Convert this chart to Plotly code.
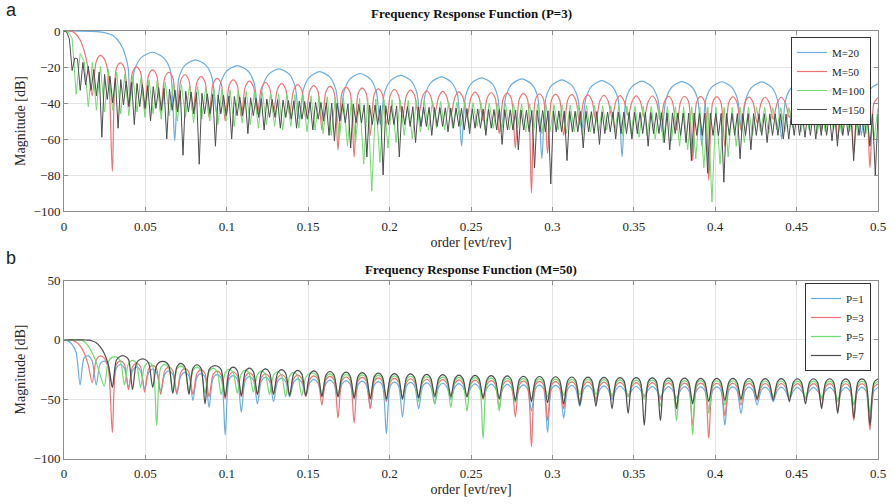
import plotly.graph_objects as go

# ---------------- DATA ----------------
ORDER_TICKS = [0, 0.05, 0.1, 0.15, 0.2, 0.25, 0.3, 0.35, 0.4, 0.45, 0.5]
ORDER_TICK_TEXT = ["0", "0.05", "0.1", "0.15", "0.2", "0.25", "0.3", "0.35", "0.4", "0.45", "0.5"]

# grid spacing of the sampled responses (order units)
M50_STEP = 0.002475247
M100_STEP = 0.002487562
M150_STEP = 0.001661130

# --- (a) P=3, M=20 : explicit points
m20_order = [0, 0.01, 0.02, 0.025, 0.03, 0.033, 0.036, 0.038, 0.0395,
             0.0405, 0.0433, 0.0474, 0.0543, 0.0611, 0.0653,
             0.068, 0.0706, 0.0744, 0.0808, 0.0871, 0.0910,
             0.0935, 0.0961, 0.1, 0.1065, 0.113, 0.1169,
             0.1195, 0.122, 0.1258, 0.132, 0.1383, 0.142,
             0.1445, 0.147, 0.1508, 0.157, 0.1633, 0.167,
             0.1695, 0.172, 0.1757, 0.1819, 0.1881, 0.1918,
             0.1943, 0.1968, 0.2006, 0.2068, 0.2131, 0.2168,
             0.2193, 0.2218, 0.2255, 0.2318, 0.238, 0.2417,
             0.2442, 0.2467, 0.2504, 0.2565, 0.2627, 0.2663,
             0.2688, 0.2713, 0.275, 0.2812, 0.2873, 0.291,
             0.2935, 0.296, 0.2996, 0.3058, 0.3119, 0.3156,
             0.318, 0.3205, 0.3242, 0.3304, 0.3366, 0.3403,
             0.3428, 0.3452, 0.3489, 0.355, 0.3611, 0.3648,
             0.3672, 0.3697, 0.3734, 0.3795, 0.3857, 0.3893,
             0.3918, 0.3942, 0.3979, 0.404, 0.4101, 0.4138,
             0.4162, 0.4187, 0.4224, 0.4285, 0.4347, 0.4383,
             0.4408, 0.4432, 0.4469, 0.453, 0.4591, 0.4628,
             0.4652, 0.4677, 0.4714, 0.4775, 0.4837, 0.4873,
             0.4898, 0.4923, 0.496, 0.5]
m20_db = [0, -0.05, -0.3, -0.9, -2.5, -5.0, -9.5, -14.5, -21.0,
          -38, -21.8, -14.8, -11.8, -14.8, -21.8,
          -61, -26.0, -19.0, -16.0, -19.0, -26.0,
          -45, -29.2, -22.2, -19.2, -22.2, -29.2,
          -47, -31.0, -24.0, -21.0, -24.0, -31.0,
          -49, -32.6, -25.6, -22.6, -25.6, -32.6,
          -50, -33.6, -26.6, -23.6, -26.6, -33.6,
          -52, -34.6, -27.6, -24.6, -27.6, -34.6,
          -53, -35.5, -28.5, -25.5, -28.5, -35.5,
          -64, -36.0, -29.0, -26.0, -29.0, -36.0,
          -54, -36.6, -29.6, -26.6, -29.6, -36.6,
          -71, -37.2, -30.2, -27.2, -30.2, -37.2,
          -55, -37.6, -30.6, -27.6, -30.6, -37.6,
          -70, -37.9, -30.9, -27.9, -30.9, -37.9,
          -56, -38.1, -31.1, -28.1, -31.1, -38.1,
          -64, -38.2, -31.2, -28.2, -31.2, -38.2,
          -56, -38.3, -31.3, -28.3, -31.3, -38.3,
          -60, -38.4, -31.4, -28.4, -31.4, -38.4,
          -55, -38.5, -31.5, -28.5, -31.5, -38.5,
          -58, -38.6, -31.6, -29.3]

# --- M=100 (P=3): start, lobe peaks and null depths
m100_start = [0, -0.4, -4.0, -35, -12.5, -17, -42]
m100_peaks = [-17.5, -19.6, -21.4, -22.8, -24.1, -25.2, -26.1, -27.0, -27.8, -28.5,
              -29.2, -29.8, -30.3, -30.9, -31.4, -31.8, -32.3, -32.7, -33.1, -33.5,
              -33.9, -34.2, -34.5, -34.8, -35.1, -35.4, -35.7, -36.0, -36.2, -36.5,
              -36.7, -37.0, -37.2, -37.4, -37.6, -37.8, -38.0, -38.2, -38.4, -38.6,
              -38.7, -38.9, -39.0, -39.2, -39.4, -39.5, -39.6, -39.8, -39.9, -40.0,
              -40.2, -40.3, -40.4, -40.5, -40.6, -40.7, -40.8, -40.9, -41.0, -41.1,
              -41.2, -41.3, -41.4, -41.5, -41.5, -41.6, -41.7, -41.8, -41.8, -41.9,
              -42.0, -42.0, -42.1, -42.1, -42.2, -42.2, -42.3, -42.3, -42.4, -42.4,
              -42.4, -42.5, -42.5, -42.5, -42.6, -42.6, -42.6, -42.6, -42.7, -42.7,
              -42.7, -42.7, -42.7, -42.7, -42.7, -42.8, -42.8, -42.8]
m100_nulls = [-44, -45, -44, -46, -47, -45, -48, -46, -49, -47,
              -50, -48, -51, -49, -50, -52, -50, -53, -51, -52,
              -54, -52, -53, -55, -53, -54, -56, -55, -57, -58,
              -60, -64, -62, -74, -89, -73, -65, -62, -58, -60,
              -56, -55, -54, -55, -54, -53, -54, -53, -55, -54,
              -56, -55, -54, -56, -55, -57, -56, -55, -57, -56,
              -58, -56, -57, -55, -56, -58, -57, -59, -58, -60,
              -62, -61, -64, -66, -71, -76, -95, -74, -70, -64,
              -62, -58, -56, -57, -55, -56, -54, -56, -55, -57,
              -56, -55, -57, -56, -58, -57, -60]

# --- M=150 (P=3): start, lobe peaks and null depths
m150_start = [0, -0.6, -4.5, -22, -15, -15.5, -33]
m150_peaks = [-17.4, -19.6, -21.4, -22.8, -24.1, -25.1, -26.1, -27.0, -27.8, -28.5,
              -29.1, -29.8, -30.3, -30.9, -31.4, -31.9, -32.3, -32.7, -33.1, -33.5,
              -33.9, -34.2, -34.6, -34.9, -35.2, -35.5, -35.8, -36.1, -36.4, -36.6,
              -36.9, -37.1, -37.4, -37.6, -37.8, -38.0, -38.2, -38.4, -38.6, -38.8,
              -39.0, -39.2, -39.4, -39.6, -39.7, -39.9, -40.1, -40.2, -40.4, -40.5,
              -40.7, -40.8, -41.0, -41.1, -41.2, -41.4, -41.5, -41.6, -41.7, -41.9,
              -42.0, -42.1, -42.2, -42.3, -42.4, -42.5, -42.6, -42.7, -42.8, -42.9,
              -43.0, -43.1, -43.2, -43.3, -43.4, -43.5, -43.6, -43.6, -43.7, -43.8,
              -43.9, -43.9, -44.0, -44.1, -44.2, -44.2, -44.3, -44.4, -44.4, -44.5,
              -44.6, -44.6, -44.7, -44.7, -44.8, -44.8, -44.9, -45.0, -45.0, -45.1,
              -45.1, -45.2, -45.2, -45.2, -45.3, -45.3, -45.4, -45.4, -45.5, -45.5,
              -45.5, -45.6, -45.6, -45.6, -45.7, -45.7, -45.7, -45.8, -45.8, -45.8,
              -45.8, -45.9, -45.9, -45.9, -45.9, -46.0, -46.0, -46.0, -46.0, -46.0,
              -46.1, -46.1, -46.1, -46.1, -46.1, -46.1, -46.1, -46.1, -46.2, -46.2,
              -46.2, -46.2, -46.2, -46.2, -46.2, -46.2, -46.2, -46.2]
m150_nulls = [-30, -33, -36, -59, -38, -40, -54, -41, -42, -52,
              -42, -43, -50, -43, -44, -60, -44, -45, -69, -45,
              -46, -74, -46, -46, -64, -46, -47, -60, -47, -47,
              -57, -47, -48, -55, -48, -48, -54, -48, -49, -54,
              -49, -49, -55, -49, -50, -58, -61, -50, -51, -65,
              -51, -51, -70, -52, -52, -80, -52, -52, -70, -52,
              -53, -62, -53, -53, -58, -53, -53, -56, -54, -53,
              -55, -57, -54, -54, -58, -54, -55, -63, -55, -55,
              -66, -55, -56, -76, -56, -56, -85, -56, -56, -72,
              -56, -56, -65, -56, -57, -63, -57, -56, -60, -57,
              -57, -60, -57, -57, -64, -57, -57, -62, -66, -57,
              -58, -62, -72, -58, -58, -79, -58, -58, -84, -58,
              -58, -71, -58, -66, -58, -58, -62, -58, -58, -60,
              -60, -58, -58, -59, -58, -60, -58, -58, -61, -64,
              -58, -58, -72, -58, -59, -64, -80]

# --- (b) M=50, P=1 / 3 / 5 / 7  (P=3 is also the M=50 curve of panel a)
p1_db = [0, -0.9, -3.9, -10.5, -38,
         -15.0, -13.5, -18.0, -38,
         -20.1, -17.9, -21.7, -40,
         -23.8, -20.8, -23.8, -40,
         -26.0, -23.0, -26.0, -41,
         -27.7, -24.7, -27.7, -43,
         -29.1, -26.1, -29.1, -46,
         -30.4, -27.4, -30.4, -51,
         -31.4, -28.4, -31.4, -57,
         -32.4, -29.4, -32.4, -80,
         -33.2, -30.2, -33.2, -61,
         -34.0, -31.0, -34.0, -54,
         -34.7, -31.7, -34.7, -52,
         -35.3, -32.3, -35.3, -48,
         -35.9, -32.9, -35.9, -47,
         -36.4, -33.4, -36.4, -47,
         -36.9, -33.9, -36.9, -48,
         -37.4, -34.4, -37.4, -50,
         -37.8, -34.8, -37.8, -56,
         -38.2, -35.2, -38.2, -79,
         -38.6, -35.6, -38.6, -65,
         -38.9, -35.9, -38.9, -58,
         -39.3, -36.3, -39.3, -54,
         -39.6, -36.6, -39.6, -50,
         -39.9, -36.9, -39.9, -48,
         -40.1, -37.1, -40.1, -47,
         -40.4, -37.4, -40.4, -48,
         -40.6, -37.6, -40.6, -52,
         -40.9, -37.9, -40.9, -60,
         -41.1, -38.1, -41.1, -78,
         -41.3, -38.3, -41.3, -66,
         -41.5, -38.5, -41.5, -56,
         -41.6, -38.6, -41.6, -52,
         -41.8, -38.8, -41.8, -50,
         -42.0, -39.0, -42.0, -48,
         -42.1, -39.1, -42.1, -47,
         -42.2, -39.2, -42.2, -48,
         -42.4, -39.4, -42.4, -49,
         -42.5, -39.5, -42.5, -52,
         -42.6, -39.6, -42.6, -58,
         -42.7, -39.7, -42.7, -72,
         -42.7, -39.7, -42.7, -62,
         -42.8, -39.8, -42.8, -55,
         -42.9, -39.9, -42.9, -52,
         -42.9, -39.9, -42.9, -50,
         -43.0, -40.0, -43.0, -48,
         -43.0, -40.0, -43.0, -48,
         -43.0, -40.0, -43.0, -50,
         -43.1, -40.1, -43.1, -54,
         -43.1, -40.1, -43.1, -73,
         -43.1, -40.1]

p3_db = [0, 0, -0.3, -1.8, -5.0, -11.0, -21.0, -36.0, -17.0, -13.5, -15.5, -24.0, -78.0,
         -20.7, -17.7, -20.7, -42,
         -22.9, -19.9, -22.9, -44,
         -24.6, -21.6, -24.6, -46,
         -26.0, -23.0, -26.0, -45,
         -27.3, -24.3, -27.3, -46,
         -28.3, -25.3, -28.3, -48,
         -29.3, -26.3, -29.3, -50,
         -30.1, -27.1, -30.1, -48,
         -30.9, -27.9, -30.9, -46,
         -31.6, -28.6, -31.6, -45,
         -32.2, -29.2, -32.2, -46,
         -32.8, -29.8, -32.8, -48,
         -33.3, -30.3, -33.3, -55,
         -33.8, -30.8, -33.8, -66,
         -34.3, -31.3, -34.3, -70,
         -34.7, -31.7, -34.7, -58,
         -35.1, -32.1, -35.1, -52,
         -35.5, -32.5, -35.5, -48,
         -35.8, -32.8, -35.8, -47,
         -36.2, -33.2, -36.2, -46,
         -36.5, -33.5, -36.5, -47,
         -36.8, -33.8, -36.8, -48,
         -37.0, -34.0, -37.0, -50,
         -37.3, -34.3, -37.3, -57,
         -37.5, -34.5, -37.5, -65,
         -37.8, -34.8, -37.8, -90,
         -38.0, -35.0, -38.0, -68,
         -38.2, -35.2, -38.2, -58,
         -38.4, -35.4, -38.4, -52,
         -38.5, -35.5, -38.5, -50,
         -38.7, -35.7, -38.7, -48,
         -38.9, -35.9, -38.9, -47,
         -39.0, -36.0, -39.0, -48,
         -39.1, -36.1, -39.1, -50,
         -39.3, -36.3, -39.3, -55,
         -39.4, -36.4, -39.4, -72,
         -39.5, -36.5, -39.5, -83,
         -39.6, -36.6, -39.6, -64,
         -39.6, -36.6, -39.6, -55,
         -39.7, -36.7, -39.7, -51,
         -39.8, -36.8, -39.8, -49,
         -39.8, -36.8, -39.8, -48,
         -39.9, -36.9, -39.9, -50,
         -39.9, -36.9, -39.9, -55,
         -39.9, -36.9, -39.9, -60,
         -40.0, -37.0, -40.0, -68,
         -40.0, -37.0, -40.0, -76,
         -40.0, -37.0]

p5_db = [0, 0, 0, -0.1, -0.3, -1.5, -5.0, -11.0, -19.0, -30.0, -39.0,
         -18.5, -14.6, -14.4, -18.0, -38,
         -20.3, -17.3, -20.3, -40,
         -22.1, -19.1, -22.1, -72,
         -23.6, -20.6, -23.6, -45,
         -24.9, -21.9, -24.9, -44,
         -26.0, -23.0, -26.0, -45,
         -26.9, -23.9, -26.9, -46,
         -27.8, -24.8, -27.8, -45,
         -28.6, -25.6, -28.6, -44,
         -29.3, -26.3, -29.3, -46,
         -29.9, -26.9, -29.9, -48,
         -30.5, -27.5, -30.5, -47,
         -31.5, -28.2, -28.2, -31.5, -46,
         -31.7, -28.7, -31.7, -46,
         -32.2, -29.2, -32.2, -47,
         -32.6, -29.6, -32.6, -48,
         -33.0, -30.0, -33.0, -50,
         -33.4, -30.4, -33.4, -50,
         -33.7, -30.7, -33.7, -52,
         -34.1, -31.1, -34.1, -54,
         -34.4, -31.4, -34.4, -57,
         -34.7, -31.7, -34.7, -60,
         -34.9, -31.9, -34.9, -83,
         -35.2, -32.2, -35.2, -60,
         -35.4, -32.4, -35.4, -53,
         -35.7, -32.7, -35.7, -50,
         -35.9, -32.9, -35.9, -48,
         -36.1, -33.1, -36.1, -47,
         -36.3, -33.3, -36.3, -46,
         -36.4, -33.4, -36.4, -46,
         -36.6, -33.6, -36.6, -47,
         -36.8, -33.8, -36.8, -48,
         -36.9, -33.9, -36.9, -50,
         -37.0, -34.0, -37.0, -56,
         -37.2, -34.2, -37.2, -68,
         -37.3, -34.3, -37.3, -80,
         -37.4, -34.4, -37.4, -62,
         -37.5, -34.5, -37.5, -55,
         -37.5, -34.5, -37.5, -51,
         -37.6, -34.6, -37.6, -49,
         -37.7, -34.7, -37.7, -48,
         -37.7, -34.7, -37.7, -48,
         -37.8, -34.8, -37.8, -49,
         -37.8, -34.8, -37.8, -50,
         -37.8, -34.8, -37.8, -52,
         -37.9, -34.9, -37.9, -55,
         -37.9, -34.9, -37.9, -62,
         -37.9, -34.9]

p7_db = [0, 0, 0, 0, 0, -0.1, -0.3, -1.0, -2.5, -6.0, -11.5, -21.0, -40.0,
         -17.0, -13.8, -13.6, -16.5, -42,
         -19.5, -16.4, -16.4, -19.5, -40,
         -21.5, -18.4, -18.4, -21.5, -45,
         -22.9, -19.9, -22.9, -46,
         -24.0, -21.0, -24.0, -54,
         -25.1, -22.1, -22.1, -25.1, -48,
         -26.0, -23.0, -26.0, -47,
         -26.8, -23.8, -26.8, -46,
         -27.5, -24.5, -27.5, -46,
         -28.1, -25.1, -28.1, -47,
         -28.7, -25.7, -28.7, -47,
         -29.2, -26.2, -29.2, -48,
         -29.7, -26.7, -29.7, -48,
         -30.2, -27.2, -30.2, -49,
         -30.6, -27.6, -30.6, -50,
         -31.0, -28.0, -31.0, -50,
         -31.4, -28.4, -31.4, -50,
         -31.7, -28.7, -31.7, -49,
         -32.1, -29.1, -32.1, -48,
         -32.4, -29.4, -32.4, -48,
         -32.7, -29.7, -32.7, -48,
         -32.9, -29.9, -32.9, -49,
         -33.2, -30.2, -33.2, -50,
         -33.4, -30.4, -33.4, -51,
         -33.7, -30.7, -33.7, -52,
         -33.9, -30.9, -33.9, -53,
         -34.1, -31.1, -34.1, -54,
         -34.3, -31.3, -34.3, -55,
         -34.4, -31.4, -34.4, -56,
         -34.6, -31.6, -34.6, -58,
         -34.8, -31.8, -34.8, -62,
         -34.9, -31.9, -34.9, -72,
         -35.0, -32.0, -35.0, -68,
         -35.2, -32.2, -35.2, -58,
         -35.3, -32.3, -35.3, -54,
         -35.4, -32.4, -35.4, -52,
         -35.5, -32.5, -35.5, -51,
         -35.5, -32.5, -35.5, -50,
         -35.6, -32.6, -35.6, -50,
         -35.7, -32.7, -35.7, -51,
         -35.7, -32.7, -35.7, -52,
         -35.8, -32.8, -35.8, -54,
         -35.8, -32.8, -35.8, -58,
         -35.8, -32.8, -35.8, -62,
         -35.9, -32.9, -35.9, -66,
         -35.9, -32.9, -35.9, -72,
         -35.9, -32.9]

TOP_NAMES = ["M=20", "M=50", "M=100", "M=150"]
BOT_NAMES = ["P=1", "P=3", "P=5", "P=7"]
COLORS = ["#6aaee0", "#f07272", "#6fdc6f", "#4d4d4d"]

# ---------------- checks ----------------
assert len(m20_order) == len(m20_db)
for arr in (p1_db, p3_db, p5_db, p7_db):
    assert len(arr) == 203, len(arr)
assert len(m100_peaks) == len(m100_nulls) + 1
assert len(m150_peaks) == len(m150_nulls) + 1


def weave(start, peaks, nulls):
    out = list(start)
    for pk, nl in zip(peaks, nulls):
        out += [pk, nl]
    out.append(peaks[-1])
    return out


m100_db = weave(m100_start, m100_peaks, m100_nulls)
m150_db = weave(m150_start, m150_peaks, m150_nulls)

# ---------------- layout helpers (body margin removed -> figure fills the window) ----------------
FW, FH = 893, 504


def xp(px):
    return px / FW


def yp(py):
    return 1 - py / FH


SERIF = "Liberation Serif, Times New Roman, serif"
fig = go.Figure()
SPL = dict(shape="spline", smoothing=0.8)

# panel (a)
fig.add_trace(go.Scatter(x=m20_order, y=m20_db, mode="lines", name=TOP_NAMES[0],
                         line=dict(color=COLORS[0], width=1.2, shape="spline", smoothing=0.7),
                         xaxis="x", yaxis="y", legend="legend"))
fig.add_trace(go.Scatter(x0=0, dx=M50_STEP, y=p3_db, mode="lines", name=TOP_NAMES[1],
                         line=dict(color=COLORS[1], width=1.2, **SPL), xaxis="x", yaxis="y", legend="legend"))
fig.add_trace(go.Scatter(x0=0, dx=M100_STEP, y=m100_db, mode="lines", name=TOP_NAMES[2],
                         line=dict(color=COLORS[2], width=1.0), xaxis="x", yaxis="y", legend="legend"))
fig.add_trace(go.Scatter(x0=0, dx=M150_STEP, y=m150_db, mode="lines", name=TOP_NAMES[3],
                         line=dict(color=COLORS[3], width=1.0), xaxis="x", yaxis="y", legend="legend"))

# panel (b)
for name, col, arr in zip(BOT_NAMES, COLORS, [p1_db, p3_db, p5_db, p7_db]):
    fig.add_trace(go.Scatter(x0=0, dx=M50_STEP, y=arr, mode="lines", name=name,
                             line=dict(color=col, width=1.2, **SPL), xaxis="x2", yaxis="y2", legend="legend2"))

AX = dict(showgrid=True, gridcolor="#e4e4e4", gridwidth=1, zeroline=False,
          showline=True, linecolor="#8c8c8c", linewidth=1, mirror="ticks",
          ticks="inside", ticklen=4, tickcolor="#8c8c8c", automargin=False,
          tickfont=dict(family=SERIF, size=13, color="#262626"))
XD = [xp(64), xp(878)]
TFONT = dict(family=SERIF, size=14, color="#262626")
LEG = dict(xanchor="right", yanchor="top", bgcolor="white", bordercolor="#333333", borderwidth=1,
           font=dict(family=SERIF, size=11, color="#222222"), tracegroupgap=0, itemwidth=30)

fig.update_layout(
    width=FW, height=FH, margin=dict(l=0, r=0, t=0, b=0, pad=0, autoexpand=False),
    paper_bgcolor="white", plot_bgcolor="white", showlegend=True,
    xaxis=dict(AX, domain=XD, range=[0, 0.5], tickvals=ORDER_TICKS, ticktext=ORDER_TICK_TEXT,
               anchor="y", ticklabelstandoff=3,
               title=dict(text="order [evt/rev]", standoff=4, font=TFONT)),
    yaxis=dict(AX, domain=[yp(211), yp(31)], range=[-100, 0], dtick=20,
               anchor="x", title=dict(text="Magnitude [dB]", standoff=4, font=TFONT)),
    xaxis2=dict(AX, domain=XD, range=[0, 0.5], tickvals=ORDER_TICKS, ticktext=ORDER_TICK_TEXT,
                anchor="y2", ticklabelstandoff=3,
                title=dict(text="order [evt/rev]", standoff=4, font=TFONT)),
    yaxis2=dict(AX, domain=[yp(458.5), yp(280.5)], range=[-100, 50], dtick=50,
                anchor="x2", title=dict(text="Magnitude [dB]", standoff=4, font=TFONT)),
    legend=dict(LEG, x=xp(871), y=yp(37)),
    legend2=dict(LEG, x=xp(871), y=yp(283)),
    annotations=[
        dict(text="<b>Frequency Response Function (P=3)</b>", x=0.5 * (XD[0] + XD[1]), y=yp(13),
             xref="paper", yref="paper", xanchor="center", yanchor="middle", showarrow=False,
             font=dict(family=SERIF, size=13, color="#111111")),
        dict(text="<b>Frequency Response Function (M=50)</b>", x=0.5 * (XD[0] + XD[1]), y=yp(269),
             xref="paper", yref="paper", xanchor="center", yanchor="middle", showarrow=False,
             font=dict(family=SERIF, size=13, color="#111111")),
        dict(text="a", x=xp(11), y=yp(10), xref="paper", yref="paper",
             xanchor="center", yanchor="middle", showarrow=False,
             font=dict(family="Liberation Sans, Arial, sans-serif", size=18, color="#222222")),
        dict(text="b", x=xp(11), y=yp(258), xref="paper", yref="paper",
             xanchor="center", yanchor="middle", showarrow=False,
             font=dict(family="Liberation Sans, Arial, sans-serif", size=18, color="#222222")),
    ],
)

fig.write_html("out.html", config={"displayModeBar": False},
               post_script="document.body.style.margin='0px';")
